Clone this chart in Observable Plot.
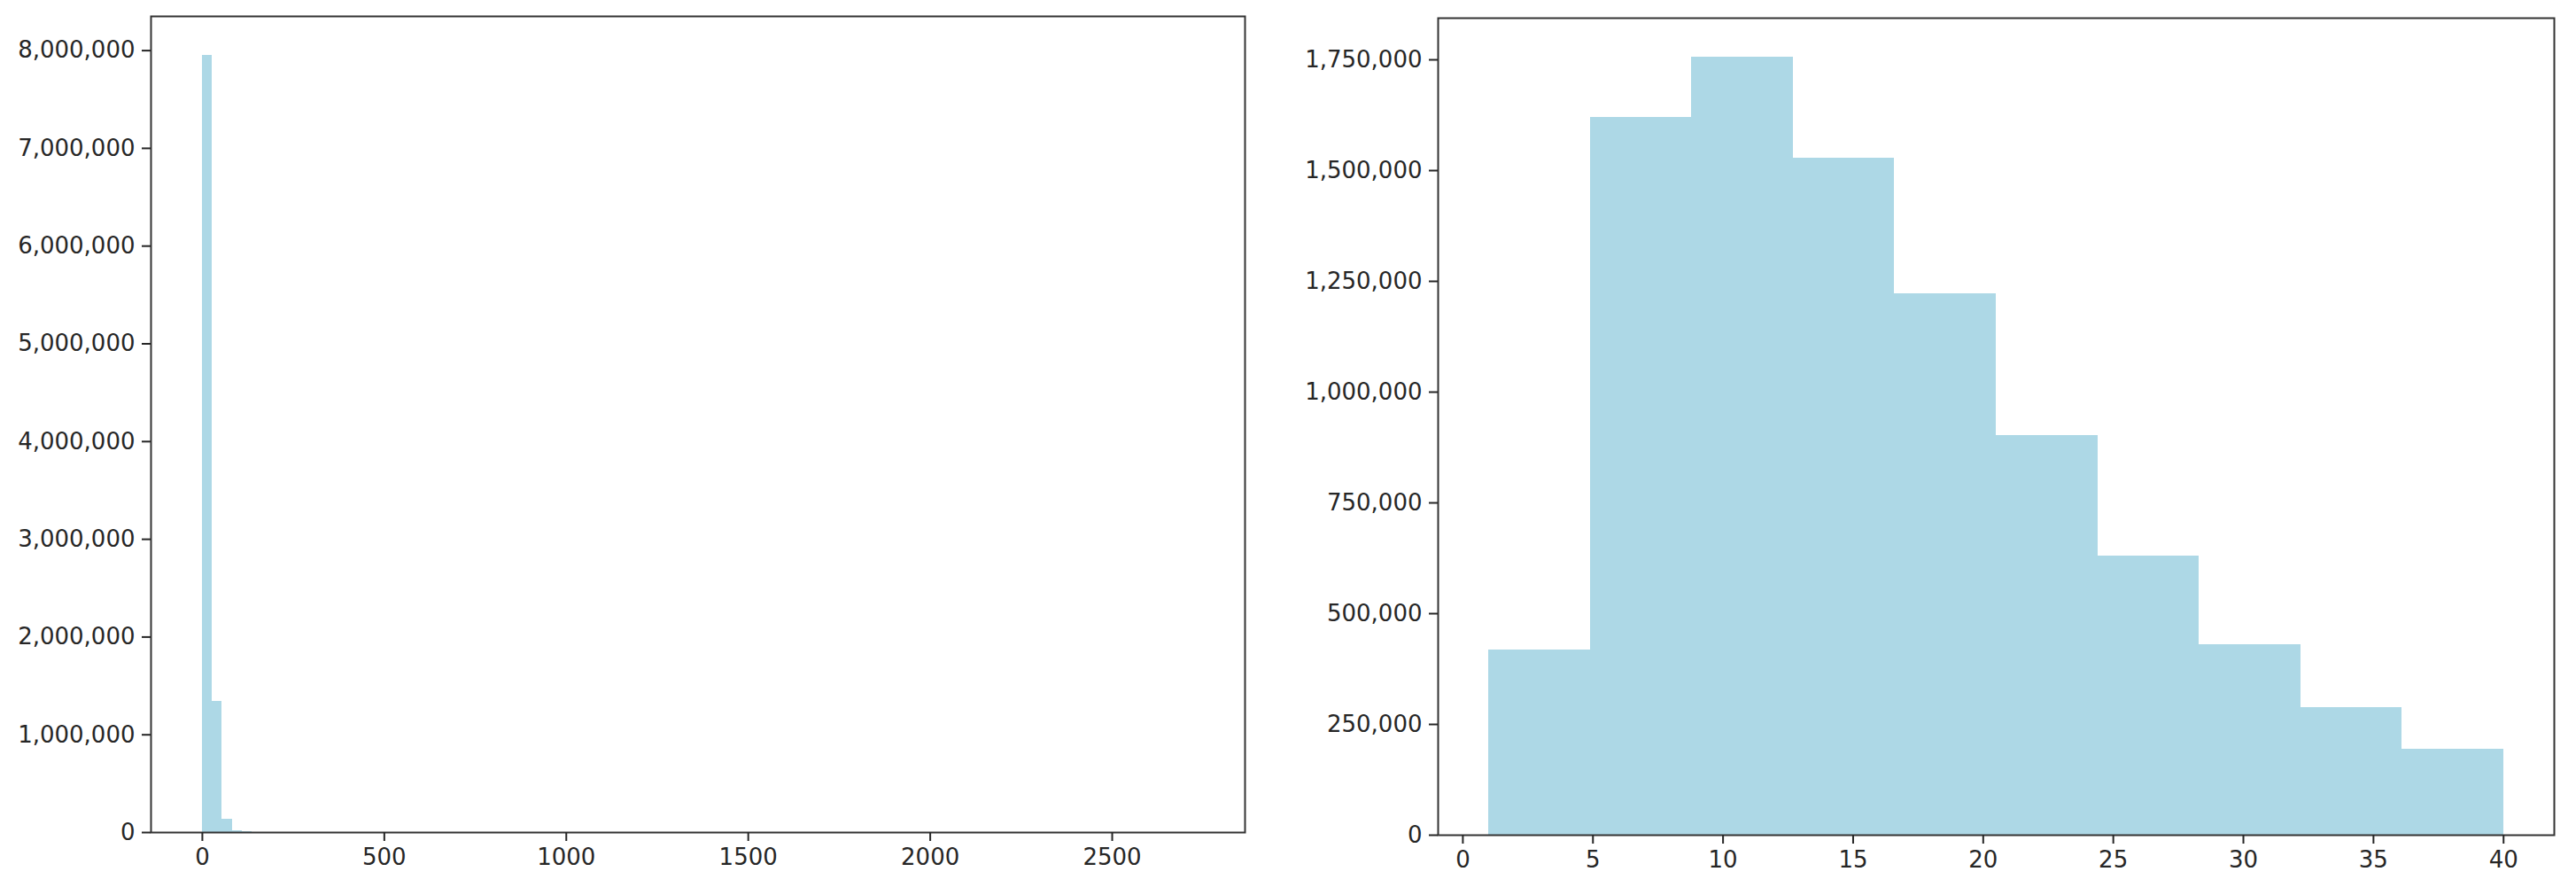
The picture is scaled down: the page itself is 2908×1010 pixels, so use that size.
<!DOCTYPE html>
<html>
<head>
<meta charset="utf-8">
<script src="https://cdn.jsdelivr.net/npm/d3@7"></script>
<script src="https://cdn.jsdelivr.net/npm/@observablehq/plot@0.6"></script>
<style>
  html, body { margin: 0; padding: 0; background: #fff; }
  #wrap { display: flex; flex-direction: row; width: 2908px; height: 1010px; }
  #wrap svg { display: block; }
</style>
</head>
<body>
<div id="wrap"></div>
<script>
// ---- Left histogram: full range (100 bins), only first bins visible ----
const leftBinStart = 0;
const leftBinWidth = 27.3;
const leftCounts = [7950000, 1345000, 136000, 22000, 9000, 4000, 2000, 1000];
const leftXTicks = [0, 500, 1000, 1500, 2000, 2500];
const leftYTicks = [0, 1000000, 2000000, 3000000, 4000000, 5000000, 6000000, 7000000, 8000000];

// ---- Right histogram: values 1..40 in 10 bins ----
const rightBinEdges = [1, 4.9, 8.8, 12.7, 16.6, 20.5, 24.4, 28.3, 32.2, 36.1, 40];
const rightCounts = [419000, 1621000, 1756000, 1528000, 1222000, 902000, 630000, 430000, 288000, 194000];
const rightXTicks = [0, 5, 10, 15, 20, 25, 30, 35, 40];
const rightYTicks = [0, 250000, 500000, 750000, 1000000, 1250000, 1500000, 1750000];

const leftData = leftCounts.map((c, i) => ({
  x0: leftBinStart + i * leftBinWidth,
  x1: leftBinStart + (i + 1) * leftBinWidth,
  count: c
}));
const rightData = rightCounts.map((c, i) => ({
  x0: rightBinEdges[i],
  x1: rightBinEdges[i + 1],
  count: c
}));

const FILL = "#add8e6";
const INK = "#262626";
const FS = 26;
const fmtY = d3.format(",");
const fmtX = d => String(d);

function hist(data, opts) {
  return Plot.plot({
    width: opts.width,
    height: 1010,
    marginLeft: opts.ml,
    marginRight: opts.mr,
    marginTop: opts.mt,
    marginBottom: opts.mb,
    style: { fontFamily: "DejaVu Sans", fontSize: FS + "px", color: INK, background: "#fff" },
    x: { domain: opts.xDomain, label: null },
    y: { domain: opts.yDomain, label: null },
    marks: [
      Plot.rect(data, {
        x1: "x0", x2: "x1", y1: () => 0, y2: "count",
        fill: FILL, shapeRendering: "crispEdges"
      }),
      Plot.frame({ stroke: "#333", strokeWidth: 2 }),
      Plot.axisX({
        ticks: opts.xTicks, tickFormat: fmtX, tickSize: 10, tickPadding: 8,
        fontSize: FS, stroke: INK, strokeWidth: 2, label: null
      }),
      Plot.axisY({
        ticks: opts.yTicks, tickFormat: fmtY, tickSize: 10, tickPadding: 8,
        fontSize: FS, stroke: INK, strokeWidth: 2, label: null
      })
    ]
  });
}

const left = hist(leftData, {
  width: 1450, ml: 170, mr: 45, mt: 18, mb: 71,
  xDomain: [-141, 2865], yDomain: [0, 8350000],
  xTicks: leftXTicks, yTicks: leftYTicks
});
const right = hist(rightData, {
  width: 1458, ml: 173, mr: 25, mt: 20, mb: 68,
  xDomain: [-0.95, 41.95], yDomain: [0, 1844000],
  xTicks: rightXTicks, yTicks: rightYTicks
});

document.getElementById("wrap").append(left, right);
</script>
</body>
</html>
